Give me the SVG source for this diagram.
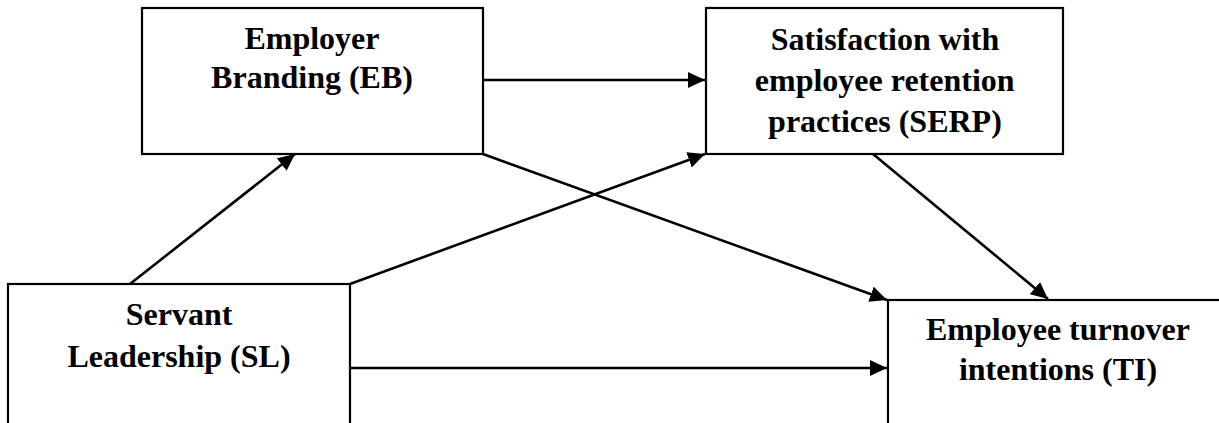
<svg xmlns="http://www.w3.org/2000/svg" width="1219" height="423" viewBox="0 0 1219 423">
<style>
.box{fill:#fff;stroke:#000;stroke-width:2.2}
.con{stroke:#000;stroke-width:2.6;fill:none}
</style>
<defs>
<marker id="ah" markerUnits="userSpaceOnUse" markerWidth="18" markerHeight="16" viewBox="0 0 18 16" refX="17" refY="8" orient="auto">
<path d="M0,0 L17,8 L0,16 Z" fill="#000"/>
</marker>
</defs>
<rect width="1219" height="423" fill="#fff"/>
<g id="EB">
<rect class="box" x="142" y="8" width="341" height="146"/>
<text x="244.4" y="49" font-family="Liberation Serif" font-weight="bold" font-size="32">Employer</text>
<text x="211.1" y="88" font-family="Liberation Serif" font-weight="bold" font-size="32">Branding (EB)</text>
</g>
<g id="SERP">
<rect class="box" x="706" y="8" width="357" height="146"/>
<text x="770.8" y="50" font-family="Liberation Serif" font-weight="bold" font-size="32">Satisfaction with</text>
<text x="754.8" y="91" font-family="Liberation Serif" font-weight="bold" font-size="32">employee retention</text>
<text x="768.1" y="132" font-family="Liberation Serif" font-weight="bold" font-size="32">practices (SERP)</text>
</g>
<g id="SL">
<rect class="box" x="8" y="284" width="342" height="160"/>
<text x="125.7" y="325" font-family="Liberation Serif" font-weight="bold" font-size="32">Servant</text>
<text x="67.4" y="367" font-family="Liberation Serif" font-weight="bold" font-size="32">Leadership (SL)</text>
</g>
<g id="TI">
<rect class="box" x="888" y="300" width="340" height="140"/>
<text x="926" y="340" font-family="Liberation Serif" font-weight="bold" font-size="32">Employee turnover</text>
<text x="958.9" y="380" font-family="Liberation Serif" font-weight="bold" font-size="32">intentions (TI)</text>
</g>
<g id="connectors">
<path class="con" d="M483,80 L705,80" marker-end="url(#ah)"/>
<path class="con" d="M130,284 L295,154" marker-end="url(#ah)"/>
<path class="con" d="M350,284 L705,154" marker-end="url(#ah)"/>
<path class="con" d="M483,154 L887,300" marker-end="url(#ah)"/>
<path class="con" d="M873,154 L1048,299" marker-end="url(#ah)"/>
<path class="con" d="M350,368 L887,368" marker-end="url(#ah)"/>
</g>
</svg>
